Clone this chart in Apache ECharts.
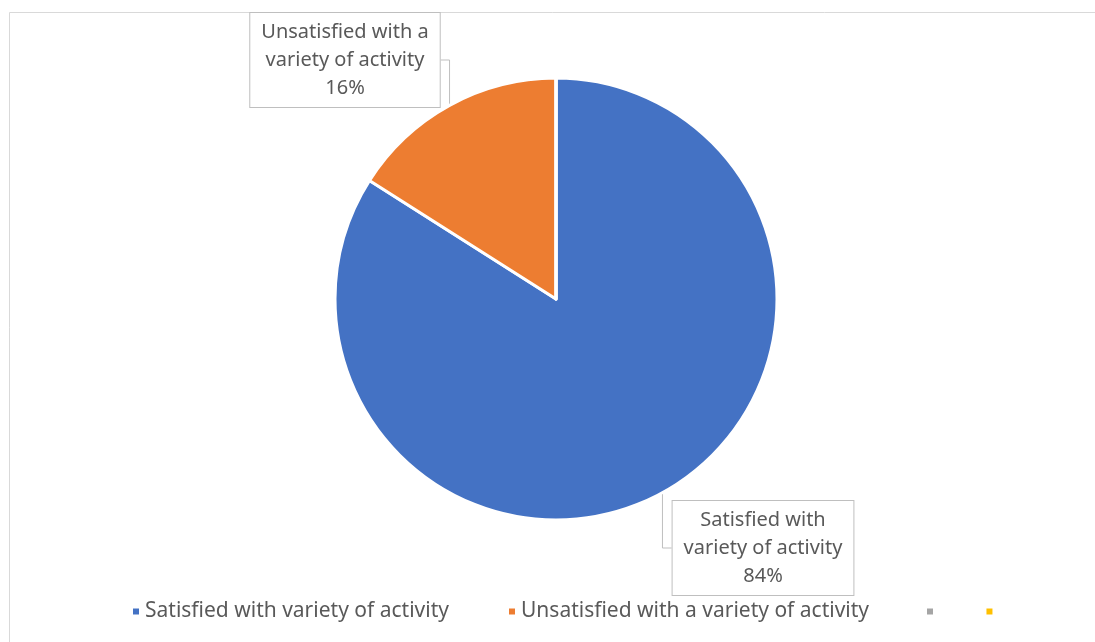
<!DOCTYPE html>
<html>
<head>
<meta charset="utf-8">
<style>
  html, body { margin: 0; padding: 0; background: #ffffff; }
  #chart { width: 1095px; height: 642px; }
</style>
<script src="https://cdn.jsdelivr.net/npm/echarts@6/dist/echarts.min.js"></script>
</head>
<body>
<div id="chart"></div>
<script>
// Survey responses on variety of activity
const categories = [
  'Satisfied with variety of activity',
  'Unsatisfied with a variety of activity',
  ' ',
  '  '
];
const shares = [84, 16, 0, 0];
const colors = ['#4472C4', '#ED7D31', '#A5A5A5', '#FFC000'];

// Callout box centres for the two visible slice labels
const labelCentres = [[763, 548], [345, 60]];

const FONT = '"Noto Sans", "Open Sans", sans-serif';
const TEXT_COLOR = '#595959';

const chart = echarts.init(document.getElementById('chart'), null, { renderer: 'canvas' });

const pieData = categories.map((name, i) => ({
  name: name,
  value: shares[i],
  itemStyle: { color: colors[i] },
  label: { show: i < 2 },
  labelLine: { show: i < 2 }
}));

const legendText = { fontFamily: FONT, fontSize: 21, color: TEXT_COLOR };
const legendBase = {
  top: 601,
  padding: 0,
  icon: 'rect',
  itemWidth: 8,
  itemHeight: 8,
  textStyle: legendText,
  selectedMode: false
};

chart.setOption({
  animation: false,
  backgroundColor: '#ffffff',
  graphic: [{
    type: 'rect',
    shape: { x: 9.5, y: 12.5, width: 1100, height: 660 },
    style: { fill: 'none', stroke: '#D9D9D9', lineWidth: 1 },
    silent: true,
    z: -1
  }],
  legend: [
    Object.assign({}, legendBase, { data: [categories[0]], left: 131 }),
    Object.assign({}, legendBase, { data: [categories[1]], left: 507 }),
    Object.assign({}, legendBase, { data: categories.slice(2), left: 925, itemGap: 40 })
  ],
  series: [{
    type: 'pie',
    center: [556, 299],
    radius: 221,
    startAngle: 90,
    clockwise: true,
    avoidLabelOverlap: false,
    itemStyle: { borderColor: '#ffffff', borderWidth: 3 },
    label: {
      show: true,
      position: 'outside',
      formatter: function (p) {
        return p.dataIndex === 0
          ? 'Satisfied with\nvariety of activity\n' + p.value + '%'
          : 'Unsatisfied with a\nvariety of activity\n' + p.value + '%';
      },
      fontFamily: FONT,
      fontSize: 20,
      lineHeight: 28,
      color: TEXT_COLOR,
      align: 'center',
      backgroundColor: '#ffffff',
      borderColor: '#BFBFBF',
      borderWidth: 1,
      padding: [5, 11, 5, 11]
    },
    labelLine: {
      show: true,
      length: 10,
      length2: 10,
      lineStyle: { color: '#BFBFBF', width: 1 }
    },
    labelLayout: function (params) {
      const c = labelCentres[params.dataIndex];
      if (!c) return {};
      return { x: c[0], y: c[1], align: 'center', verticalAlign: 'middle' };
    },
    emphasis: { disabled: true },
    data: pieData
  }]
});
</script>
</body>
</html>
